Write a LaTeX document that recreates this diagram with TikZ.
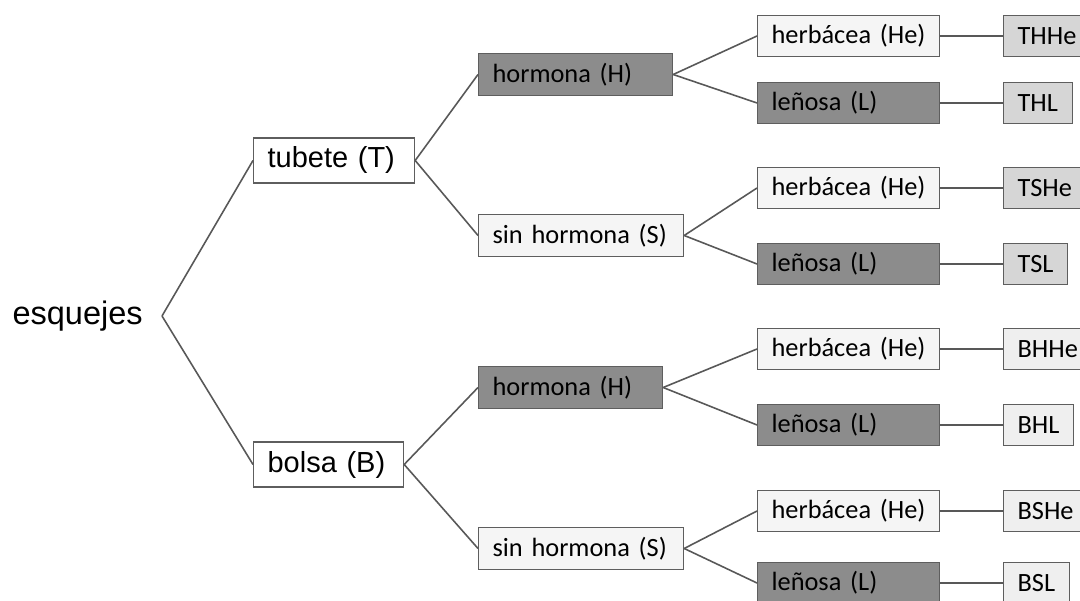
\documentclass[tikz,border=0pt]{standalone}
\usepackage{fontspec}
\setmainfont{Carlito}
\newfontfamily\arialfont{Liberation Sans}
\usetikzlibrary{positioning}
\definecolor{linegray}{HTML}{585858}
\definecolor{boxline}{HTML}{5E5E5E}
\definecolor{boxlight}{HTML}{F5F5F5}
\definecolor{boxdark}{HTML}{8C8C8C}
\definecolor{codeT}{HTML}{D6D6D6}
\definecolor{codeB}{HTML}{EFEFEF}

\begin{document}
\begin{tikzpicture}[x=0.02cm, y=-0.02cm,
	box/.style={shape=rectangle, draw=boxline, fill=boxlight, line width=0.7pt, inner xsep=0.28cm, inner ysep=0, align=left, anchor=west, text=black, font=\fontsize{15}{18}\selectfont},
	root/.style={box, fill=white, minimum height=0.9cm, font=\arialfont\fontsize{16.5}{19}\selectfont},
	mid/.style={box, minimum height=0.83cm},
	leaf/.style={box, minimum height=0.81cm, text width=3.08cm},
	dark/.style={fill=boxdark},
	code/.style={box, minimum height=0.81cm},
	link/.style={draw=linegray, line width=0.9pt}]
				\useasboundingbox (0,0) rectangle (1080,601);
				\clip (0,0) rectangle (1080,601);
				\node[anchor=east, inner xsep=0.38cm, font=\arialfont\fontsize{18.5}{22}\selectfont] (esq) at (162,316) {esquejes};
				% primer nivel
				\node[root, text width=2.66cm] (T) at (253,160.5) {tubete (T)};
				\node[root, text width=2.44cm] (B) at (253,464.5) {bolsa (B)};
				% segundo nivel
				\node[mid, dark, text width=3.32cm] (TH) at (478,74.5) {hormona (H)};
				\node[mid, text width=3.54cm] (TS) at (478,235.5) {sin hormona (S)};
				\node[mid, dark, text width=3.12cm] (BH) at (478,387.5) {hormona (H)};
				\node[mid, text width=3.54cm] (BS) at (478,548.5) {sin hormona (S)};
				% tercer nivel
				\node[leaf] (THHe) at (757,36) {herbácea (He)};
				\node[leaf, dark] (THL) at (757,103) {leñosa (L)};
				\node[leaf] (TSHe) at (757,188) {herbácea (He)};
				\node[leaf, dark] (TSL) at (757,264) {leñosa (L)};
				\node[leaf] (BHHe) at (757,349) {herbácea (He)};
				\node[leaf, dark] (BHL) at (757,425) {leñosa (L)};
				\node[leaf] (BSHe) at (757,511) {herbácea (He)};
				\node[leaf, dark] (BSL) at (757,583) {leñosa (L)};
				% codigos
				\node[code, fill=codeT, text width=1.2cm] (cTHHe) at (1003,36) {THHe};
				\node[code, fill=codeT, text width=0.82cm] (cTHL) at (1003,103) {THL};
				\node[code, fill=codeT, text width=1.2cm] (cTSHe) at (1003,188) {TSHe};
				\node[code, fill=codeT, text width=0.72cm] (cTSL) at (1003,264) {TSL};
				\node[code, fill=codeB, text width=1.2cm] (cBHHe) at (1003,349) {BHHe};
				\node[code, fill=codeB, text width=0.84cm] (cBHL) at (1003,425) {BHL};
				\node[code, fill=codeB, text width=1.2cm] (cBSHe) at (1003,511) {BSHe};
				\node[code, fill=codeB, text width=0.76cm] (cBSL) at (1003,583) {BSL};
				% conectores
				\draw[link] (esq.east) to (T.west);
				\draw[link] (esq.east) to (B.west);
				\draw[link] (T.east) to (TH.west);
				\draw[link] (T.east) to (TS.west);
				\draw[link] (B.east) to (BH.west);
				\draw[link] (B.east) to (BS.west);
				\draw[link] (TH.east) to (THHe.west);
				\draw[link] (TH.east) to (THL.west);
				\draw[link] (TS.east) to (TSHe.west);
				\draw[link] (TS.east) to (TSL.west);
				\draw[link] (BH.east) to (BHHe.west);
				\draw[link] (BH.east) to (BHL.west);
				\draw[link] (BS.east) to (BSHe.west);
				\draw[link] (BS.east) to (BSL.west);
				\foreach \n in {THHe,THL,TSHe,TSL,BHHe,BHL,BSHe,BSL}
					\draw[link] (\n.east) to (c\n.west);
			\end{tikzpicture}
\end{document}
